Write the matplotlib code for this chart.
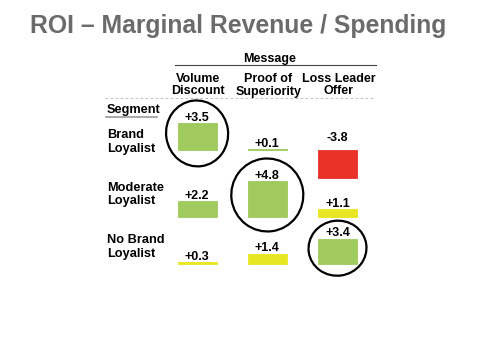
import matplotlib
matplotlib.use("Agg")
import matplotlib.pyplot as plt
from matplotlib.patches import Ellipse

# ---------------- data ----------------
title = "ROI – Marginal Revenue / Spending"
header = "Message"
segment_header = "Segment"
messages = ["Volume\nDiscount", "Proof of\nSuperiority", "Loss Leader\nOffer"]
segments = ["Brand\nLoyalist", "Moderate\nLoyalist", "No Brand\nLoyalist"]
roi_brand = [3.5, 0.1, -3.8]
roi_moderate = [2.2, 4.8, 1.1]
roi_nobrand = [0.3, 1.4, 3.4]
roi = [roi_brand, roi_moderate, roi_nobrand]
rating_brand = ["good", "good", "bad"]
rating_moderate = ["good", "good", "weak"]
rating_nobrand = ["weak", "weak", "good"]
ratings = [rating_brand, rating_moderate, rating_nobrand]
highlight = [(0, 0), (1, 1), (2, 2)]  # (segment, message) circled

# ---------------- style / layout ----------------
palette = {"good": "#a0c95e", "weak": "#e8e622", "bad": "#e8322a"}
W, H = 480, 360
PXU = 7.5                 # pixels per ROI unit
X0, COLW = 162.0, 70.2    # left edge of bar area, column pitch (px)
row_base = [149.7, 217.3, 264.0]
row_label_y = [138.3, 190.7, 243.3]
circle_size = [(62, 66), (72, 73), (58, 55)]
YLO, YHI = -5, 6
FS_HEAD, FS_ROW, FS_VAL = 9.0, 9.2, 9.0

plt.rcParams["font.family"] = ["Liberation Sans", "DejaVu Sans"]
fig = plt.figure(figsize=(W / 100, H / 100), dpi=100)
fig.patch.set_facecolor("white")

ov = fig.add_axes([0, 0, 1, 1], zorder=5)
ov.set_xlim(0, W)
ov.set_ylim(H, 0)
ov.axis("off")
ov.patch.set_alpha(0)

def col_px(c):
    return X0 + (c + 0.5) * COLW

# title
ov.text(238, 32.5, title, ha="center", va="baseline", fontsize=17.8,
        fontweight="bold", color="#6b6b6b")

# message header
ov.text(270, 61.7, header, ha="center", va="baseline", fontsize=FS_HEAD, fontweight="bold")
ov.plot([175, 376], [65, 65], color="#444444", lw=0.8)
for c, m in enumerate(messages):
    for k, line in enumerate(m.split("\n")):
        ov.text(col_px(c) + 1, 81.7 + k * 12.8, line, ha="center", va="baseline",
                fontsize=FS_HEAD, fontweight="bold")
ov.plot([105, 374], [98.3, 98.3], color="#c4c4c4", lw=0.8, dashes=(2.5, 2))

# segment header
ov.text(107, 113.5, segment_header, ha="left", va="baseline", fontsize=FS_ROW, fontweight="bold")
ov.plot([106, 157], [116.8, 116.8], color="#999999", lw=1.2)

# rows
for r, seg in enumerate(segments):
    for k, line in enumerate(seg.split("\n")):
        ov.text(107, row_label_y[r] + k * 13.5, line, ha="left", va="baseline",
                fontsize=FS_ROW, fontweight="bold")
    base = row_base[r]
    ax = fig.add_axes([X0 / W, 1 - (base - YLO * PXU) / H, 3 * COLW / W,
                       (YHI - YLO) * PXU / H])
    ax.set_xlim(-0.5, 2.5)
    ax.set_ylim(YLO, YHI)
    ax.axis("off")
    ax.patch.set_alpha(0)
    cols = [palette[x] for x in ratings[r]]
    ax.bar(range(3), roi[r], width=0.555, color=cols, edgecolor=cols, linewidth=0.6)
    for c, v in enumerate(roi[r]):
        ax.annotate(f"{v:+.1f}", xy=(c, max(v, 0)),
                    xytext=(0, 1.5 if v >= 0 else 6.5), textcoords="offset points",
                    ha="center", va="baseline", fontsize=FS_VAL, fontweight="bold")
    for i, (hr, hc) in enumerate(highlight):
        if hr == r:
            disp = ax.transData.transform((hc, 0.62 * roi[r][hc]))
            cx, cy = ov.transData.inverted().transform(disp)
            w, h = circle_size[i]
            ov.add_patch(Ellipse((cx, cy), w, h, angle=-8, fill=False,
                                 edgecolor="black", lw=1.6))

fig.savefig("out.png", dpi=100, facecolor="white")
